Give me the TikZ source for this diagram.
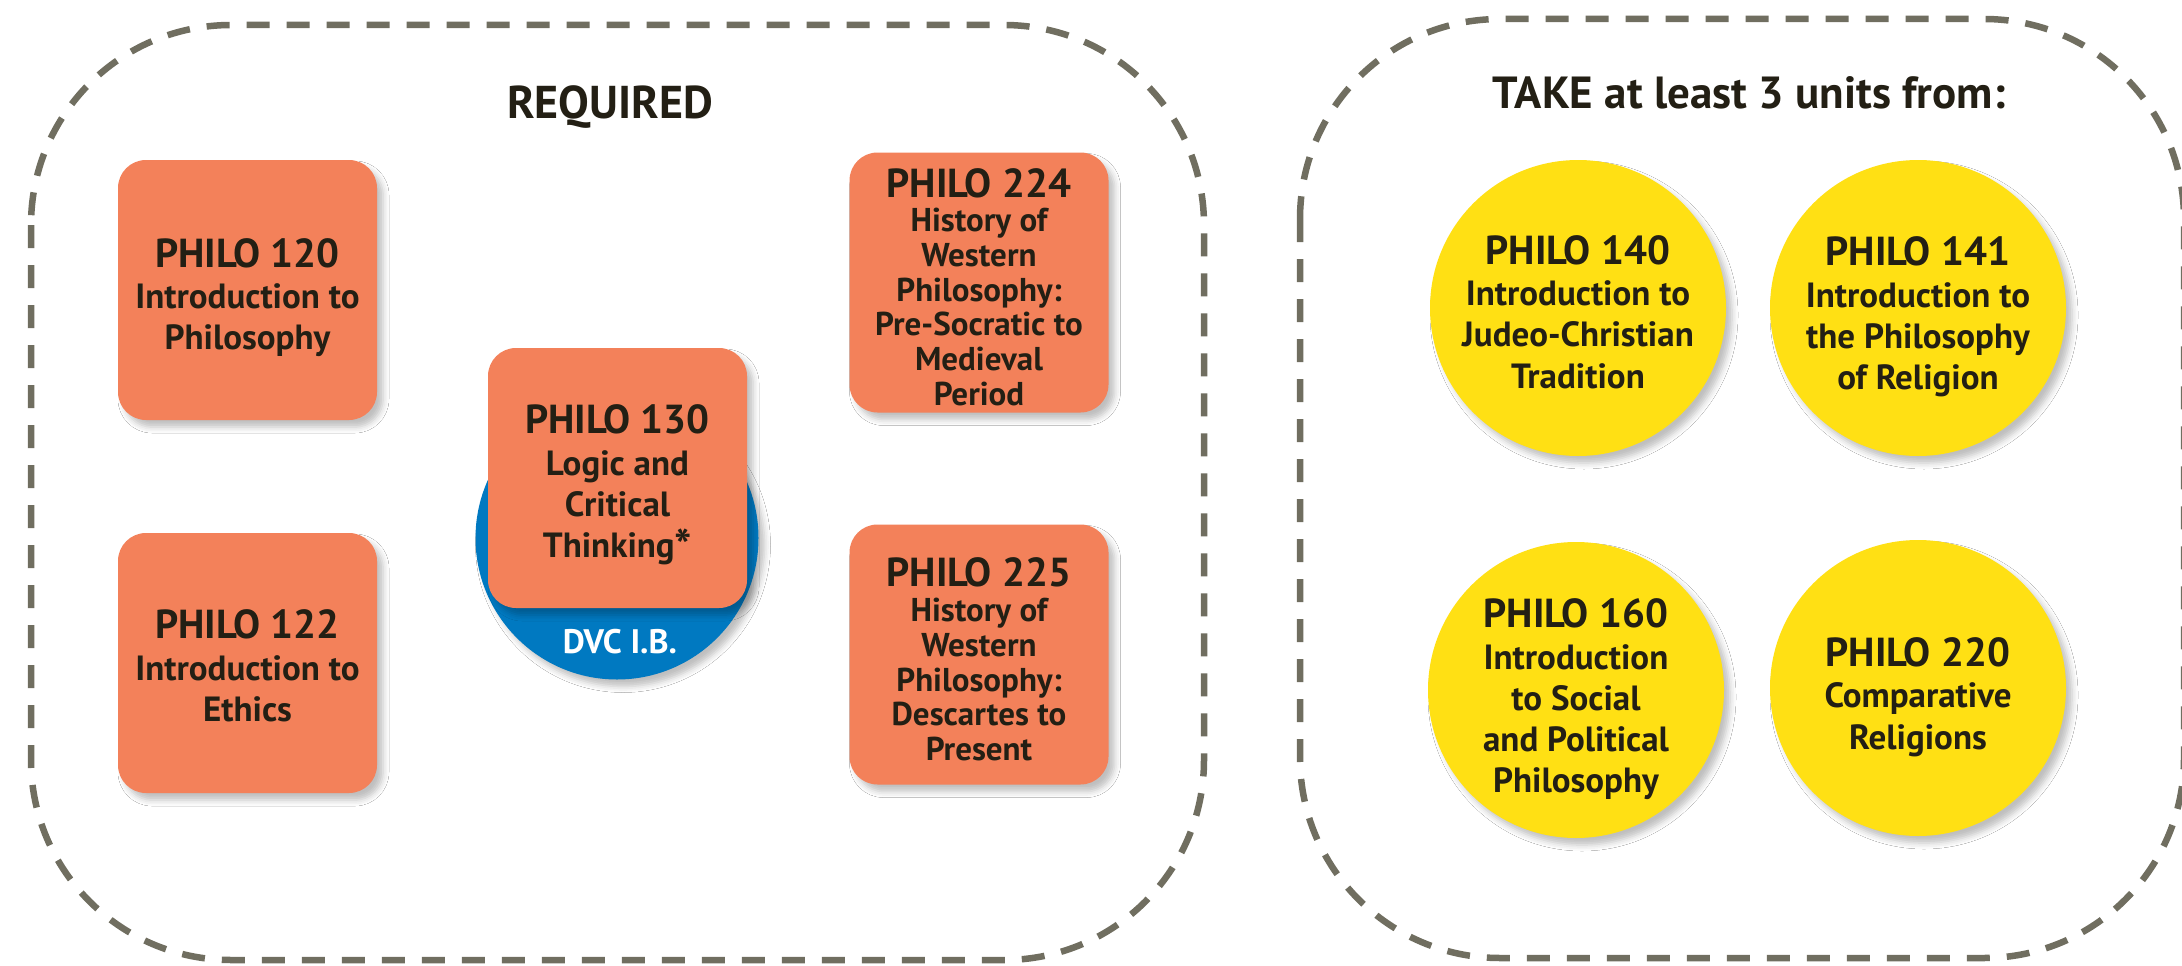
\documentclass[tikz,border=0pt]{standalone}
\usepackage{fontspec}
\setmainfont{PT Sans}
\usetikzlibrary{shadows.blur}
\definecolor{orng}{HTML}{F3815A}
\definecolor{bluec}{HTML}{0079C1}
\definecolor{yell}{HTML}{FFE014}
\definecolor{dashc}{HTML}{706E60}
\definecolor{ink}{HTML}{231F14}
\newcommand\ctitle[1]{{\fontsize{40.5}{41}\selectfont #1}}
\newcommand\bigast{\raisebox{-5pt}{\fontsize{46}{41}\selectfont *}}
\tikzset{
  shad/.style={blur shadow={shadow xshift=6pt,shadow yshift=-7pt,shadow blur radius=6pt,shadow opacity=25}},
  dashbox/.style={draw=dashc,line width=6.5pt,dash pattern=on 23pt off 17pt,rounded corners=200pt},
  obox/.style={shad,fill=orng,rounded corners=28pt,minimum width=259pt,minimum height=260pt,inner sep=0pt},
  ycirc/.style={shad,circle,fill=yell,minimum size=296pt,inner sep=0pt},
  crsbody/.style={align=center,text=ink,inner sep=0pt,font=\bfseries\fontsize{35}{41.3}\selectfont},
  tightbody/.style={crsbody,font=\bfseries\fontsize{33}{34.7}\selectfont},
  hdtext/.style={anchor=base,text=ink,inner sep=0pt,font=\bfseries\fontsize{46}{50}\selectfont},
}
\begin{document}
\begin{tikzpicture}[x=1pt,y=-1pt]
\useasboundingbox[fill=white] (0,0) rectangle (2182,966);
% dashed groups
\draw[dashbox] (31,25) rectangle (1204,960);
\draw[dashbox] (1300,19) rectangle (2184,958);
% headings
\node[hdtext] (hreq) at (610,118) {REQUIRED};
\node[hdtext,font=\bfseries\fontsize{45}{50}\selectfont] (htake) at (1749,108) {TAKE at least 3 units from:};
% required courses
\node[obox] (b120) at (247.5,290) {};
\node[obox] (b122) at (247.5,663) {};
\node[shad,circle,fill=bluec,minimum size=283pt,inner sep=0pt] (ib) at (617,538) {};
\node[anchor=base,text=white,inner sep=0pt,font=\bfseries\fontsize{34}{40}\selectfont] (ibt) at (620,653) {DVC I.B.};
\node[obox] (b130) at (617.5,478) {};
\node[obox] (b224) at (979,282.5) {};
\node[obox] (b225) at (979,654.5) {};
\node[crsbody] (t120) at (247.5,297.5) {\ctitle{PHILO 120}\\Introduction to\\Philosophy};
\node[crsbody] (t122) at (247.5,666) {\ctitle{PHILO 122}\\Introduction to\\Ethics};
\node[crsbody] (t130) at (617.5,485) {\ctitle{PHILO 130}\\Logic and\\Critical\\Thinking\bigast};
\node[tightbody] (t224) at (979,287) {\ctitle{PHILO 224}\\History of\\Western\\Philosophy:\\Pre-Socratic to\\Medieval\\Period};
\node[tightbody] (t225) at (979,659.5) {\ctitle{PHILO 225}\\History of\\Western\\Philosophy:\\Descartes to\\Present};
% elective courses
\node[ycirc] (c140) at (1578,308) {};
\node[ycirc] (c141) at (1918,308) {};
\node[ycirc] (c160) at (1576,690) {};
\node[ycirc] (c220) at (1918,688) {};
\node[crsbody] (t140) at (1578,312) {\ctitle{PHILO 140}\\Introduction to\\Judeo-Christian\\Tradition};
\node[crsbody] (t141) at (1918,317) {\ctitle{PHILO 141}\\Introduction to\\the Philosophy\\of Religion};
\node[crsbody] (t160) at (1576,699.5) {\ctitle{PHILO 160}\\Introduction\\to Social\\and Political\\Philosophy};
\node[crsbody] (t220) at (1918,697) {\ctitle{PHILO 220}\\Comparative\\Religions};
\end{tikzpicture}
\end{document}
